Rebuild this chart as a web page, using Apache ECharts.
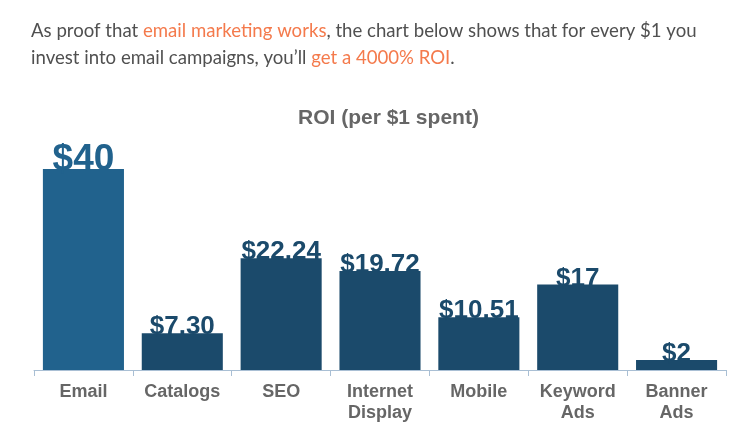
<!DOCTYPE html>
<html>
<head>
<meta charset="utf-8">
<script src="https://cdn.jsdelivr.net/npm/echarts@6/dist/echarts.min.js"></script>
<style>
html,body{margin:0;padding:0;background:#fff;}
#c{width:738px;height:442px;}
</style>
</head>
<body>
<div id="c"></div>
<script>
const categories = ['Email', 'Catalogs', 'SEO', 'Internet\nDisplay', 'Mobile', 'Keyword\nAds', 'Banner\nAds'];
const values = [40, 7.30, 22.24, 19.72, 10.51, 17, 2];
const valueLabels = ['$40', '$7.30', '$22.24', '$19.72', '$10.51', '$17', '$2'];
const chartTitle = 'ROI (per $1 spent)';

const chart = echarts.init(document.getElementById('c'), null, {renderer: 'canvas'});
const dark = '#1b4a6b';
const light = '#21628d';

chart.setOption({
  backgroundColor: '#fff',
  animation: false,
  title: {
    text: chartTitle,
    left: 298,
    top: 108,
    padding: 0,
    textStyle: {fontFamily: 'Liberation Sans', fontWeight: 'bold', fontSize: 21, color: '#666'}
  },
  graphic: [{
    type: 'text',
    left: 31,
    top: 17,
    style: {
      text: 'As proof that {o|email marketing works}, the chart below shows that for every $1 you\ninvest into email campaigns, you\u2019ll {o|get a 4000% ROI}.',
      fontFamily: 'Lato',
      fontSize: 18.6,
      lineHeight: 27,
      fill: '#505050',
      rich: {o: {fill: '#f47a4c', fontFamily: 'Lato', fontSize: 18.6, lineHeight: 27}}
    }
  }],
  grid: {left: 34, right: 12, top: 169, bottom: 72, containLabel: false},
  xAxis: {
    type: 'category',
    data: categories,
    axisLine: {lineStyle: {color: '#a9bfd4', width: 1}},
    axisTick: {show: true, length: 6, lineStyle: {color: '#a9bfd4'}},
    axisLabel: {
      interval: 0,
      margin: 12,
      fontFamily: 'Liberation Sans',
      fontWeight: 'bold',
      fontSize: 18,
      lineHeight: 21,
      color: '#666'
    }
  },
  yAxis: {
    type: 'value',
    min: 0,
    max: 40,
    show: false,
    splitLine: {show: false}
  },
  series: [{
    type: 'bar',
    barCategoryGap: '18%',
    data: values.map((v, i) => ({
      value: v,
      itemStyle: {color: i === 0 ? light : dark},
      label: {
        show: true,
        position: 'top',
        distance: i === 0 ? -9 : -7,
        formatter: valueLabels[i],
        fontFamily: 'Liberation Sans',
        fontWeight: 'bold',
        fontSize: i === 0 ? 37 : 26,
        color: i === 0 ? light : dark
      }
    }))
  }]
});
</script>
</body>
</html>
